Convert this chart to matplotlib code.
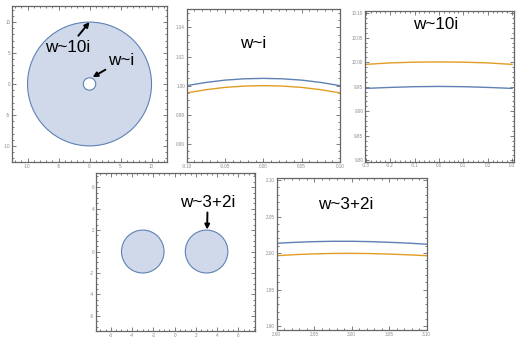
import numpy as np
import matplotlib.pyplot as plt
import matplotlib.patches as mpatches
from matplotlib.ticker import MultipleLocator, FormatStrFormatter

plt.rcParams['font.family'] = ['Liberation Sans', 'DejaVu Sans']
plt.rcParams['axes.unicode_minus'] = False

# ---- data ----
# region plots: circles (centre x, centre y, radius)
ring_outer = (0.0, 0.0, 10.0)
ring_hole = (0.0, 0.0, 1.0)
disc_centers_x = [-3.0, 3.0]
disc_centers_y = [0.0, 0.0]
disc_radii = [2.0, 2.0]

# w ~ i
x_i = [-0.10, -0.075, -0.05, -0.025, 0.0, 0.025, 0.05, 0.075, 0.10]
blue_i = [1.0000, 1.0022, 1.0038, 1.0047, 1.0050, 1.0047, 1.0038, 1.0022, 1.0000]
orange_i = [0.9950, 0.9972, 0.9988, 0.9997, 1.0000, 0.9997, 0.9988, 0.9972, 0.9950]

# w ~ 10i
x_10i = [-0.3, -0.2, -0.1, 0.0, 0.1, 0.2, 0.3]
blue_10i = [9.9465, 9.9485, 9.9500, 9.9505, 9.9500, 9.9485, 9.9465]
orange_10i = [9.9955, 9.9985, 10.0000, 10.0005, 10.0000, 9.9985, 9.9955]

# w ~ 3+2i
x_32i = [2.90, 2.925, 2.95, 2.975, 3.00, 3.025, 3.05, 3.075, 3.10]
blue_32i = [2.0135, 2.0148, 2.0157, 2.0162, 2.0162, 2.0157, 2.0148, 2.0137, 2.0122]
orange_32i = [1.9965, 1.9980, 1.9990, 1.9996, 1.9997, 1.9994, 1.9987, 1.9977, 1.9965]

BLUE = '#5E81B5'
ORANGE = '#E19C24'
FILL = '#CFD9E9'
FRAME = '#666666'
TICKLBL = '#8a8a8a'
LBL = 12.3


def style_frame(ax, xmaj, xmin, ymaj, ymin, xfmt, yfmt):
    for sp in ax.spines.values():
        sp.set_color(FRAME)
        sp.set_linewidth(0.9)
    ax.xaxis.set_major_locator(MultipleLocator(xmaj))
    ax.xaxis.set_minor_locator(MultipleLocator(xmin))
    ax.yaxis.set_major_locator(MultipleLocator(ymaj))
    ax.yaxis.set_minor_locator(MultipleLocator(ymin))
    ax.xaxis.set_major_formatter(FormatStrFormatter(xfmt))
    ax.yaxis.set_major_formatter(FormatStrFormatter(yfmt))
    ax.tick_params(which='both', direction='in', top=True, right=True,
                   color=FRAME, width=0.6)
    ax.tick_params(which='major', length=3, labelsize=3.3,
                   labelcolor=TICKLBL, pad=1.2)
    ax.tick_params(which='minor', length=1.5)


fig = plt.figure(figsize=(5.16, 3.37), dpi=100)

# panel 1: annulus
ax1 = fig.add_axes([0.0233, 0.5193, 0.3004, 0.4629])
ax1.add_patch(mpatches.Circle(ring_outer[:2], ring_outer[2], facecolor=FILL,
                              edgecolor=BLUE, lw=0.8))
ax1.add_patch(mpatches.Circle(ring_hole[:2], ring_hole[2], facecolor='white',
                              edgecolor=BLUE, lw=0.8))
ax1.set_xlim(-12.5, 12.5)
ax1.set_ylim(-12.6, 12.6)
style_frame(ax1, 5, 1, 5, 1, '%d', '%d')
arw = dict(arrowstyle='-|>', color='black', lw=1.4, mutation_scale=7,
           shrinkA=0, shrinkB=0)
ax1.annotate('', xy=(0.0, 10.0), xytext=(-1.8, 7.8), arrowprops=arw)
ax1.text(-3.6, 7.1, 'w~10i', fontsize=LBL, ha='center', va='top')
ax1.annotate('w~i', xy=(0.5, 1.1), xytext=(3.0, 2.6), arrowprops=arw,
             fontsize=LBL, ha='left', va='bottom')

# panel 2: w ~ i
ax2 = fig.add_axes([0.3618, 0.5193, 0.2971, 0.4531])
ax2.plot(x_i, blue_i, color=BLUE, lw=1.0)
ax2.plot(x_i, orange_i, color=ORANGE, lw=1.0)
ax2.set_xlim(-0.1, 0.1)
ax2.set_ylim(0.9475, 1.0525)
style_frame(ax2, 0.05, 0.01, 0.02, 0.005, '%.2f', '%.2f')
ax2.text(-0.013, 1.029, 'w~i', fontsize=LBL, ha='center', va='center')

# panel 3: w ~ 10i
ax3 = fig.add_axes([0.7074, 0.5202, 0.2888, 0.4481])
ax3.plot(x_10i, blue_10i, color=BLUE, lw=1.0)
ax3.plot(x_10i, orange_10i, color=ORANGE, lw=1.0)
ax3.set_xlim(-0.303, 0.308)
ax3.set_ylim(9.797, 10.105)
style_frame(ax3, 0.1, 0.02, 0.05, 0.01, '%.1f', '%.2f')
ax3.text(-0.012, 10.076, 'w~10i', fontsize=LBL, ha='center', va='center')

# panel 4: two discs
ax4 = fig.add_axes([0.1860, 0.0180, 0.3081, 0.4680])
for cx, cy, r in zip(disc_centers_x, disc_centers_y, disc_radii):
    ax4.add_patch(mpatches.Circle((cx, cy), r, facecolor=FILL,
                                  edgecolor=BLUE, lw=0.8))
ax4.set_xlim(-7.4, 7.55)
ax4.set_ylim(-7.4, 7.3)
style_frame(ax4, 2, 0.5, 2, 0.5, '%d', '%d')
ax4.annotate('w~3+2i', xy=(3.05, 2.05), xytext=(3.1, 3.9), arrowprops=arw,
             fontsize=LBL, ha='center', va='bottom')

# panel 5: w ~ 3+2i
ax5 = fig.add_axes([0.5362, 0.0200, 0.2907, 0.4510])
ax5.plot(x_32i, blue_32i, color=BLUE, lw=1.0)
ax5.plot(x_32i, orange_32i, color=ORANGE, lw=1.0)
ax5.set_xlim(2.9, 3.1)
ax5.set_ylim(1.8946, 2.1023)
style_frame(ax5, 0.05, 0.01, 0.05, 0.01, '%.2f', '%.2f')
ax5.text(2.992, 2.066, 'w~3+2i', fontsize=LBL, ha='center', va='center')

fig.savefig('out.png', dpi=100)
